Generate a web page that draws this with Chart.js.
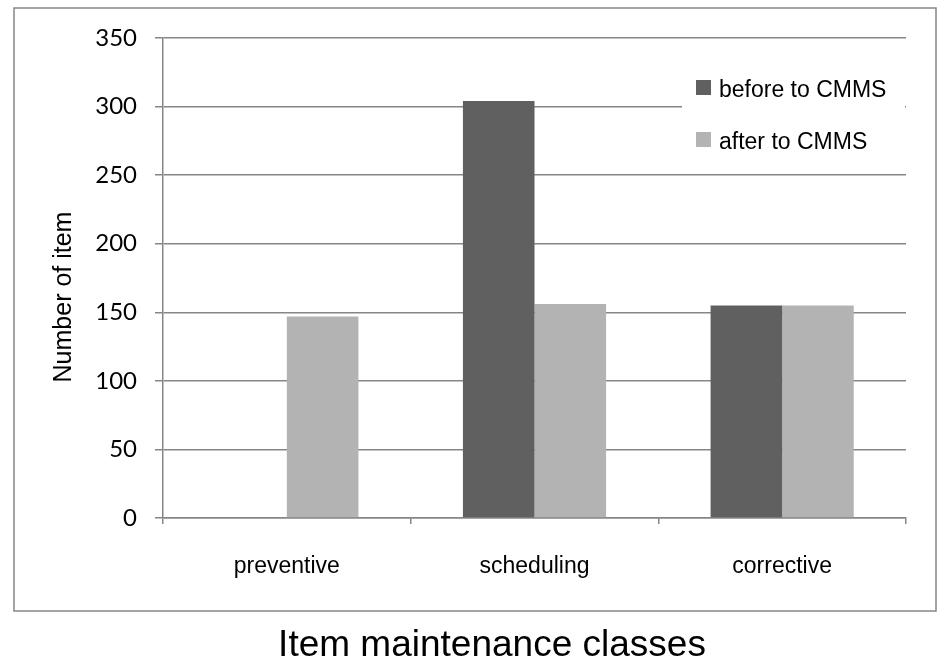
<!DOCTYPE html>
<html>
<head>
<meta charset="utf-8">
<title>Item maintenance classes</title>
<script src="https://cdn.jsdelivr.net/npm/chart.js@4/dist/chart.umd.min.js"></script>
<style>
  html, body { margin: 0; padding: 0; background: #ffffff; }
  #wrap { width: 949px; height: 664px; position: relative; }
</style>
</head>
<body>
<div id="wrap"><canvas id="chart" width="949" height="664"></canvas></div>
<script>
// Maintenance item counts per class, before and after the CMMS
const categories = ['preventive', 'scheduling', 'corrective'];
const seriesNames = ['before to CMMS', 'after to CMMS'];
const beforeCMMS = [0, 304, 155];
const afterCMMS = [147, 156, 155];
const yTicks = [0, 50, 100, 150, 200, 250, 300, 350];
const yAxisCaption = 'Number of item';
const xAxisCaption = 'Item maintenance classes';

const DARK = '#606060';
const LIGHT = '#b3b3b3';
const LINE = '#868686';

// Frame around the plot, the vertical axis caption and the boxed legend
const decorations = {
  id: 'decorations',
  beforeDraw(chart) {
    const ctx = chart.ctx;
    ctx.save();
    ctx.fillStyle = '#ffffff';
    ctx.fillRect(0, 0, chart.width, chart.height);
    ctx.strokeStyle = LINE;
    ctx.lineWidth = 1.5;
    ctx.strokeRect(14, 8, 922, 603);
    ctx.restore();
  },
  afterDraw(chart) {
    const ctx = chart.ctx;
    const area = chart.chartArea;
    ctx.save();
    // vertical axis caption
    ctx.translate(64, 297);
    ctx.rotate(-Math.PI / 2);
    ctx.fillStyle = '#000000';
    ctx.font = '25px "Liberation Sans", Arial, sans-serif';
    ctx.textAlign = 'center';
    ctx.textBaseline = 'middle';
    ctx.fillText(yAxisCaption, 0, 0);
    ctx.restore();

    // legend box in the upper right of the plot
    ctx.save();
    const boxLeft = 682;
    ctx.fillStyle = '#ffffff';
    ctx.fillRect(boxLeft, 62, area.right - boxLeft - 1, 100);
    ctx.font = '23px "Liberation Sans", Arial, sans-serif';
    ctx.textAlign = 'left';
    ctx.textBaseline = 'alphabetic';
    chart.data.datasets.forEach((ds, i) => {
      const y = 80 + i * 52;
      ctx.fillStyle = ds.backgroundColor;
      ctx.fillRect(696, y, 15, 15);
      ctx.fillStyle = '#000000';
      ctx.fillText(ds.label, 719, y + 17);
    });
    ctx.restore();
  }
};

new Chart(document.getElementById('chart'), {
  type: 'bar',
  data: {
    labels: categories,
    datasets: [
      { label: seriesNames[0], data: beforeCMMS, backgroundColor: DARK },
      { label: seriesNames[1], data: afterCMMS, backgroundColor: LIGHT }
    ]
  },
  options: {
    responsive: false,
    animation: false,
    devicePixelRatio: 1,
    layout: { padding: { left: 78, right: 43, top: 38, bottom: 0 } },
    datasets: {
      bar: { categoryPercentage: 0.578, barPercentage: 1.0 }
    },
    plugins: {
      legend: { display: false },
      tooltip: { enabled: false },
      title: {
        display: true,
        position: 'bottom',
        text: xAxisCaption,
        color: '#000000',
        padding: 0,
        font: { family: '"Liberation Sans", Arial, sans-serif', size: 37, weight: 'normal', lineHeight: 1 }
      }
    },
    scales: {
      x: {
        grid: {
          offset: true,
          drawOnChartArea: false,
          drawTicks: true,
          tickLength: 6,
          color: LINE,
          lineWidth: 1.5
        },
        border: { display: true, color: LINE, width: 1.5 },
        ticks: {
          color: '#000000',
          padding: 29,
          font: { family: '"Liberation Sans", Arial, sans-serif', size: 23 }
        },
        afterFit(scale) { scale.height = 109; }
      },
      y: {
        min: 0,
        max: 350,
        afterBuildTicks(scale) { scale.ticks = yTicks.map(v => ({ value: v })); },
        grid: {
          color: LINE,
          lineWidth: 1.5,
          drawTicks: true,
          tickLength: 8
        },
        border: { display: true, color: LINE, width: 1.5 },
        ticks: {
          color: '#000000',
          padding: 18,
          font: { family: 'Lato, "Open Sans", sans-serif', size: 24 }
        },
        afterFit(scale) { scale.width = 85; }
      }
    }
  },
  plugins: [decorations]
});
</script>
</body>
</html>
